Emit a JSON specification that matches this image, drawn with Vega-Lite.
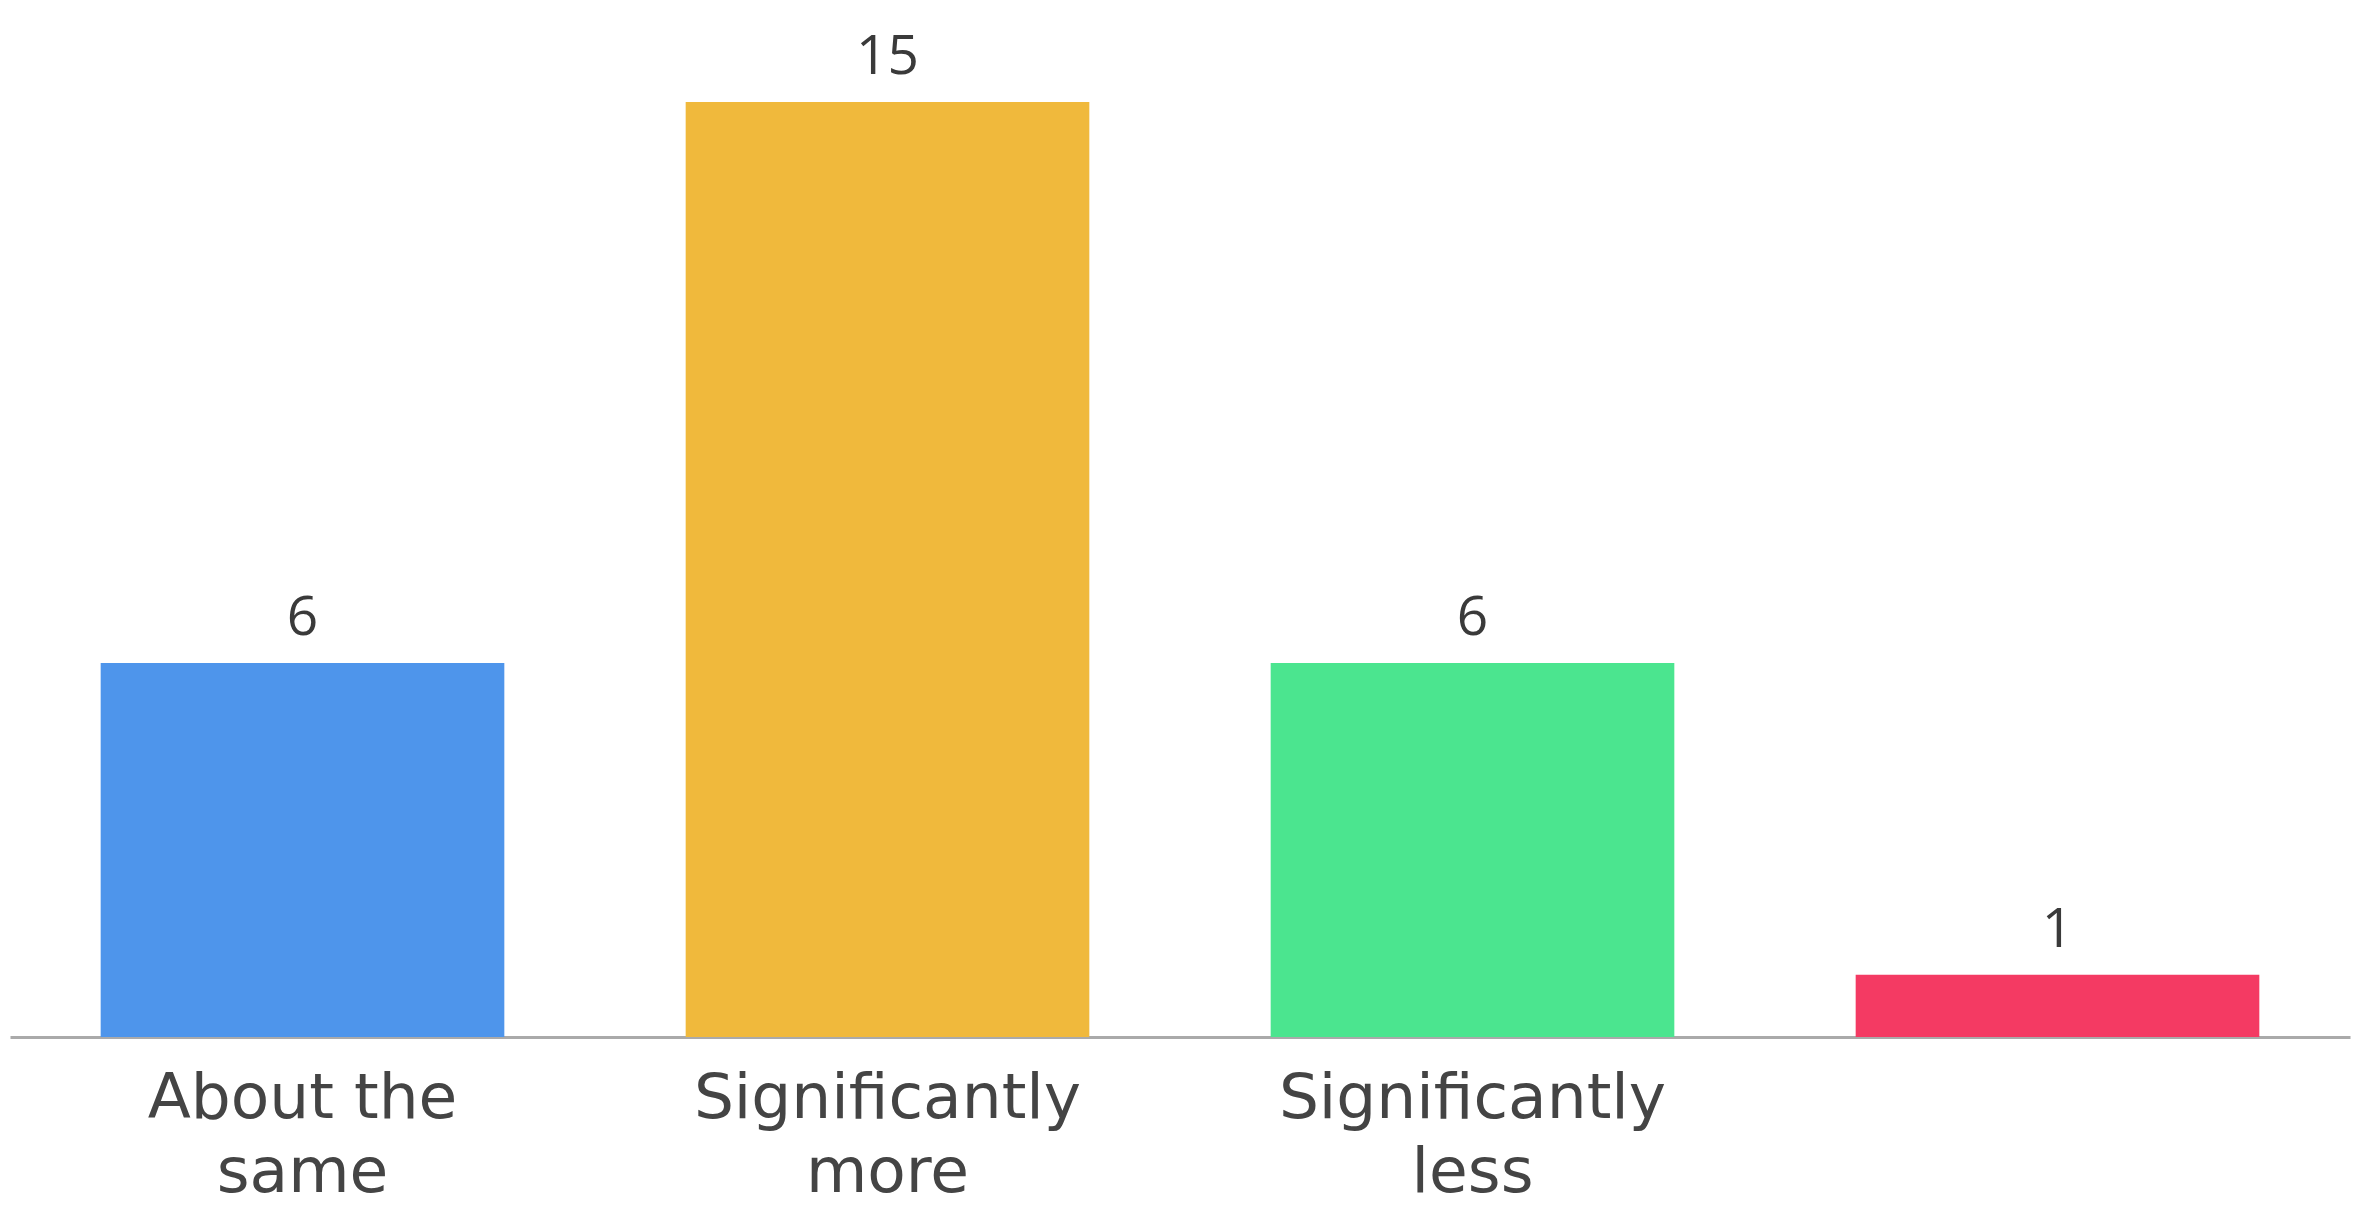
{
  "$schema": "https://vega.github.io/schema/vega-lite/v6.json",
  "autosize": "none",
  "width": 2340,
  "height": 935,
  "padding": {"left": 10, "top": 102, "right": 7, "bottom": 174},
  "background": "white",
  "data": {
    "values": [
      {"answer": "About the same", "count": 6},
      {"answer": "Significantly more", "count": 15},
      {"answer": "Significantly less", "count": 6},
      {"answer": " ", "count": 1}
    ]
  },
  "encoding": {
    "x": {
      "field": "answer",
      "type": "nominal",
      "sort": null,
      "scale": {"paddingInner": 0.31, "paddingOuter": 0.155},
      "axis": {
        "title": null,
        "labelAngle": 0,
        "ticks": false,
        "domainColor": "#aaaaaa",
        "domainWidth": 3,
        "labelFont": "DejaVu Sans",
        "labelFontSize": 63,
        "labelColor": "#444444",
        "labelPadding": 30,
        "labelLineHeight": 74,
        "labelBaseline": "top",
        "labelLimit": 1000,
        "labelExpr": "[substring(datum.label, 0, lastindexof(datum.label, ' ')), substring(datum.label, lastindexof(datum.label, ' ') + 1)]"
      }
    },
    "y": {
      "field": "count",
      "type": "quantitative",
      "scale": {"domain": [0, 15], "nice": false},
      "axis": null
    }
  },
  "layer": [
    {
      "mark": {"type": "bar"},
      "encoding": {
        "color": {
          "field": "answer",
          "type": "nominal",
          "sort": null,
          "scale": {
            "domain": ["About the same", "Significantly more", "Significantly less", " "],
            "range": ["#4e95eb", "#f0b93c", "#4be58f", "#f43a63"]
          },
          "legend": null
        }
      }
    },
    {
      "mark": {
        "type": "text",
        "baseline": "alphabetic",
        "dy": -28,
        "font": "Open Sans",
        "fontSize": 55,
        "color": "#3a3a3a"
      },
      "encoding": {"text": {"field": "count", "type": "quantitative"}}
    }
  ],
  "config": {"view": {"stroke": null}}
}
